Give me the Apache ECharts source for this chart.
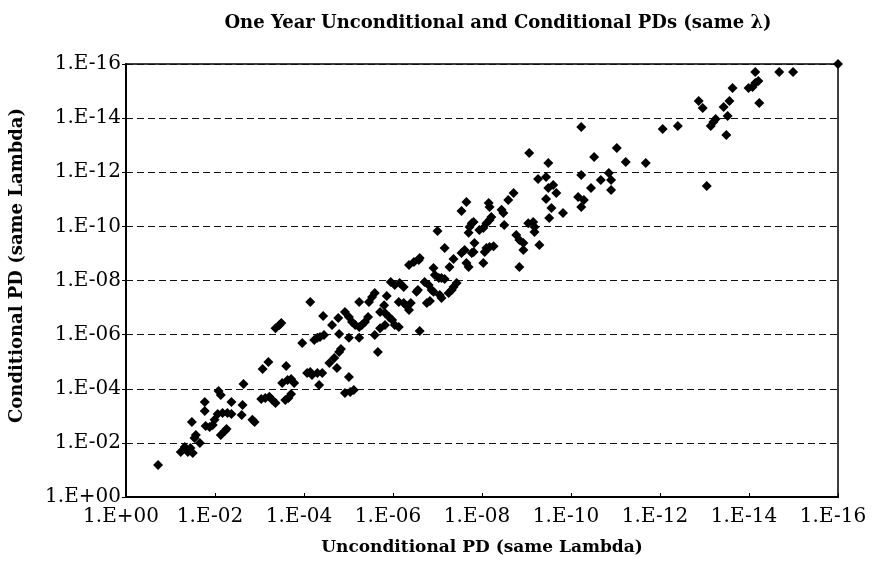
<!DOCTYPE html>
<html>
<head>
<meta charset="utf-8">
<script src="https://cdn.jsdelivr.net/npm/echarts@6/dist/echarts.min.js"></script>
<style>
  html, body { margin: 0; padding: 0; background: #fff; }
  #chart { width: 876px; height: 575px; }
</style>
</head>
<body>
<div id="chart"></div>
<script>
// PD values, stored as decades: 3.5 means 1.E-3.5
var uncondPD = [
  0.72, 1.23, 1.32, 1.39, 1.45, 1.50, 1.54, 1.57, 1.66, 1.48,
  1.77, 1.77, 1.79, 1.88, 1.95, 1.99, 2.08, 2.13, 2.06, 2.17,
  2.28, 2.37, 2.13, 2.22, 2.26, 2.37, 2.62, 2.60, 2.64, 2.84,
  2.89, 3.07, 3.20, 3.04, 3.13, 3.22, 3.29, 3.36, 3.60, 3.51,
  3.63, 3.71, 3.78, 3.58, 3.65, 3.71, 3.96, 4.07, 4.14, 4.18,
  4.30, 4.41, 4.34, 5.01, 4.92, 5.04, 5.12, 4.74, 4.57, 4.68,
  4.79, 4.83, 4.23, 4.30, 4.36, 4.45, 4.63, 4.77, 4.43, 3.36,
  3.45, 3.49, 4.14, 4.79, 5.01, 5.24, 4.92, 5.01, 5.08, 5.15,
  5.24, 5.30, 5.37, 5.44, 5.24, 5.46, 5.53, 5.59, 5.59, 5.71,
  5.82, 5.66, 5.71, 5.80, 5.82, 5.91, 5.98, 6.04, 6.13, 5.86,
  5.95, 6.04, 6.15, 6.24, 6.13, 6.24, 6.31, 6.36, 6.40, 6.53,
  6.71, 6.76, 6.60, 6.56, 6.83, 7.09, 7.05, 6.80, 6.87, 6.91,
  6.91, 6.94, 7.03, 7.09, 7.16, 7.25, 7.32, 7.36, 7.43, 6.36,
  6.47, 6.58, 6.60, 7.27, 7.36, 7.16, 7.54, 7.61, 7.65, 7.70,
  7.77, 7.81, 7.83, 7.00, 7.70, 7.72, 7.77, 7.81, 7.54, 7.65,
  7.94, 8.03, 8.10, 8.17, 8.21, 8.03, 8.06, 8.10, 8.17, 8.26,
  8.15, 8.17, 8.44, 8.48, 8.50, 8.59, 8.71, 8.77, 8.84, 8.93,
  8.93, 8.84, 9.04, 9.15, 9.18, 9.18, 9.29, 9.26, 9.44, 9.49,
  9.60, 9.67, 9.44, 9.56, 9.51, 9.82, 9.06, 9.49, 10.23, 12.06,
  12.40, 10.52, 11.03, 11.23, 11.68, 10.23, 10.45, 10.16, 10.29, 10.23,
  10.67, 10.85, 10.90, 10.90, 16.00, 14.14, 14.68, 14.99, 13.99, 14.08,
  14.14, 14.21, 13.63, 12.87, 12.96, 13.56, 13.43, 14.23, 13.52, 13.14,
  13.20, 13.25, 13.49, 13.05
];
var condPD = [
  1.18, 1.66, 1.85, 1.66, 1.81, 1.63, 2.18, 2.29, 2.00, 2.77,
  3.51, 3.18, 2.62, 2.59, 2.66, 2.85, 3.92, 3.77, 3.07, 3.10,
  3.10, 3.07, 2.29, 2.44, 2.51, 3.51, 3.40, 3.03, 4.18, 2.85,
  2.77, 4.73, 4.99, 3.62, 3.66, 3.70, 3.58, 3.47, 4.84, 4.21,
  4.32, 4.36, 4.21, 3.58, 3.66, 3.81, 5.69, 4.58, 4.62, 4.51,
  4.58, 4.58, 4.14, 4.43, 3.84, 3.88, 3.95, 4.77, 4.95, 5.14,
  5.36, 5.47, 5.80, 5.88, 5.91, 5.99, 6.36, 6.61, 6.69, 6.24,
  6.36, 6.43, 7.21, 6.02, 5.88, 5.88, 6.84, 6.65, 6.47, 6.36,
  6.28, 6.36, 6.47, 6.65, 7.21, 7.21, 7.39, 7.54, 5.99, 6.24,
  6.36, 5.36, 6.84, 7.09, 6.80, 6.65, 6.54, 6.36, 6.28, 7.43,
  7.94, 7.83, 7.91, 7.76, 7.21, 7.17, 7.06, 6.91, 7.17, 7.58,
  7.94, 7.17, 6.13, 7.65, 7.24, 7.35, 7.46, 7.83, 7.65, 7.58,
  8.46, 8.20, 8.09, 8.09, 8.06, 7.54, 7.65, 7.76, 7.91, 8.57,
  8.68, 8.76, 8.83, 8.50, 8.79, 9.20, 9.02, 9.13, 8.65, 8.50,
  9.02, 9.05, 9.39, 9.83, 9.76, 9.98, 10.12, 10.16, 10.57, 10.90,
  9.87, 9.94, 10.12, 10.24, 10.35, 8.65, 9.05, 9.20, 9.24, 9.27,
  10.86, 10.72, 10.61, 10.49, 10.05, 10.97, 11.23, 9.68, 9.50, 9.39,
  9.13, 8.50, 10.12, 10.16, 9.98, 9.79, 9.31, 11.75, 11.82, 11.42,
  11.53, 11.23, 11.01, 10.68, 10.31, 10.49, 12.71, 12.34, 13.67, 13.60,
  13.71, 12.56, 12.90, 12.38, 12.34, 11.90, 11.42, 11.09, 10.97, 10.72,
  11.71, 11.97, 11.71, 11.34, 16.00, 15.70, 15.70, 15.70, 15.11, 15.15,
  15.30, 15.37, 15.11, 14.63, 14.37, 14.63, 14.41, 14.56, 14.08, 13.71,
  13.86, 13.97, 13.38, 11.49
];
var tickLabels = ['1.E+00', '1.E-02', '1.E-04', '1.E-06', '1.E-08', '1.E-10', '1.E-12', '1.E-14', '1.E-16'];

var points = uncondPD.map(function (x, i) { return [x, condPD[i]] })

var serif = 'DejaVu Serif'
var chart = echarts.init(document.getElementById('chart'))
chart.setOption({
  backgroundColor: '#fff',
  animation: false,
  title: {
    text: 'One Year Unconditional and Conditional PDs (same λ)',
    left: 493,
    textAlign: 'center',
    top: 9,
    textStyle: { fontFamily: serif, fontWeight: 'bold', fontSize: 18, color: '#000' }
  },
  grid: {
    left: 123,
    right: 38,
    top: 64,
    bottom: 78,
    show: true,
    borderColor: '#000',
    borderWidth: 1.5
  },
  xAxis: {
    type: 'value',
    min: 0,
    max: 16,
    interval: 2,
    name: 'Unconditional PD (same Lambda)',
    nameLocation: 'middle',
    nameGap: 42,
    nameTextStyle: { fontFamily: serif, fontWeight: 'bold', fontSize: 17, color: '#000' },
    axisLine: { lineStyle: { color: '#000', width: 2 } },
    axisTick: { show: true, inside: true, length: 4, lineStyle: { color: '#000' } },
    splitLine: { show: false },
    axisLabel: {
      fontFamily: serif,
      fontSize: 20,
      color: '#000',
      margin: 10,
      padding: [0, 10, 0, 0],
      formatter: function (v) { return tickLabels[Math.round(v / 2)] }
    }
  },
  yAxis: {
    type: 'value',
    min: 0,
    max: 16,
    interval: 2,
    name: 'Conditional PD (same Lambda)',
    nameLocation: 'middle',
    nameGap: 100,
    nameTextStyle: { fontFamily: serif, fontWeight: 'bold', fontSize: 18, color: '#000', padding: [0, 0, 0, 30] },
    axisLine: { lineStyle: { color: '#000', width: 2 } },
    axisTick: { show: true, length: 4, lineStyle: { color: '#000' } },
    splitLine: {
      show: true,
      lineStyle: { color: '#111', width: 1, type: [7, 4] }
    },
    axisLabel: {
      fontFamily: serif,
      fontSize: 20,
      color: '#000',
      margin: 5,
      formatter: function (v) { return tickLabels[Math.round(v / 2)] }
    }
  },
  series: [
    {
      type: 'scatter',
      symbol: 'diamond',
      symbolSize: 10,
      itemStyle: { color: '#000', opacity: 1 },
      data: points
    }
  ]
})
</script>
</body>
</html>
